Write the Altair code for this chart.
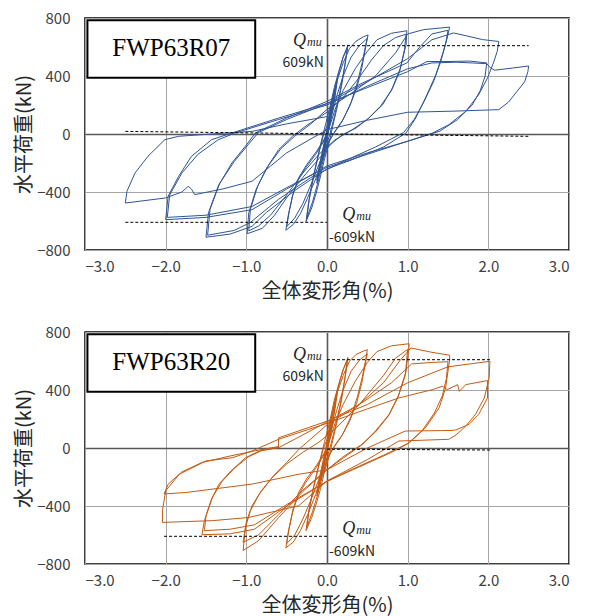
import altair as alt
import pandas as pd

X_TICKS = [-3, -2, -1, 0, 1, 2, 3]
Y_TICKS = [-800, -400, 0, 400, 800]
X_TITLE = "全体変形角(%)"
Y_TITLE = "水平荷重(kN)"

# ---------------- FWP63R07 (blue) hysteresis ----------------
r07_small = [(0, 0), (0.03, 110), (0.06, 200), (0.04, 110), (0.01, 10), (-0.03, -90), (-0.06, -180),
             (-0.04, -100), (-0.01, -10), (0.03, 100), (0.06, 190), (0.04, 100), (0.0, 0), (-0.03, -90),
             (-0.06, -170), (-0.03, -70), (0.0, 10), (0.04, 150), (0.08, 260), (0.125, 380), (0.1, 280),
             (0.06, 150), (0.02, 20), (-0.02, -80), (-0.06, -180), (-0.1, -270), (-0.125, -340),
             (-0.1, -250), (-0.06, -140), (-0.02, -20), (0.02, 90), (0.06, 200), (0.1, 300), (0.125, 360),
             (0.1, 260), (0.05, 110), (0.0, -20), (-0.05, -150), (-0.1, -260), (-0.125, -320),
             (-0.1, -230), (-0.05, -100), (0.0, 20)]
r07_025 = [(0.05, 170), (0.1, 310), (0.15, 430), (0.2, 530), (0.26, 615), (0.23, 500), (0.18, 330),
           (0.12, 170), (0.07, 50), (0.03, -50), (-0.03, -170), (-0.08, -290), (-0.13, -400),
           (-0.19, -510), (-0.26, -605), (-0.23, -480), (-0.18, -320), (-0.12, -170), (-0.07, -50),
           (-0.03, 40), (0.03, 170), (0.09, 320), (0.15, 440), (0.2, 530), (0.25, 590), (0.22, 470),
           (0.16, 290), (0.1, 140), (0.05, 30), (0.0, -70), (-0.06, -210), (-0.12, -350), (-0.18, -470),
           (-0.25, -580), (-0.22, -450), (-0.16, -280), (-0.1, -130), (-0.05, -20), (0.0, 60)]
r07_050 = [(0.05, 200), (0.12, 360), (0.2, 490), (0.28, 590), (0.36, 640), (0.45, 670), (0.51, 683),
           (0.48, 617), (0.44, 500), (0.38, 363), (0.3, 220), (0.2, 100), (0.1, 20), (0.03, -50),
           (-0.05, -170), (-0.14, -310), (-0.24, -440), (-0.33, -550), (-0.42, -625), (-0.51, -664),
           (-0.48, -560), (-0.43, -430), (-0.36, -320), (-0.26, -230), (-0.14, -140), (-0.05, -60),
           (0.0, 0), (0.05, 110), (0.12, 260), (0.2, 400), (0.3, 530), (0.4, 610), (0.5, 660),
           (0.47, 570), (0.43, 450), (0.37, 320), (0.28, 190), (0.18, 80), (0.08, 0), (0.0, -70),
           (-0.1, -210), (-0.2, -350), (-0.3, -480), (-0.4, -580), (-0.5, -640), (-0.47, -540),
           (-0.42, -410), (-0.35, -300), (-0.25, -210), (-0.13, -120), (-0.04, -40), (0.02, 30)]
r07_100 = [(0.1, 170), (0.2, 300), (0.35, 450), (0.5, 570), (0.62, 650), (0.8, 695), (0.99, 712),
           (0.98, 616), (0.91, 455), (0.81, 317), (0.69, 202), (0.52, 110), (0.36, 41), (0.19, -5),
           (0.05, -70), (-0.1, -170), (-0.3, -300), (-0.5, -440), (-0.65, -560), (-0.8, -650),
           (-0.99, -688), (-0.97, -545), (-0.88, -384), (-0.76, -246), (-0.6, -108), (-0.43, -16),
           (-0.25, 60), (0.0, 150), (0.2, 250), (0.4, 390), (0.55, 510), (0.7, 610), (0.85, 665),
           (0.98, 688), (0.96, 580), (0.9, 430), (0.8, 300), (0.66, 190), (0.5, 100), (0.3, 25),
           (0.1, -40), (-0.1, -140), (-0.3, -270), (-0.5, -420), (-0.7, -560), (-0.85, -635),
           (-0.97, -668), (-0.95, -520), (-0.86, -360), (-0.73, -220), (-0.57, -100), (-0.4, -15)]
r07_150 = [(-0.2, 70), (0.0, 170), (0.3, 280), (0.6, 400), (0.85, 560), (1.0, 690), (1.2, 720),
           (1.52, 737), (1.49, 662), (1.43, 547), (1.35, 409), (1.22, 248), (1.1, 110), (0.98, 7),
           (0.7, -90), (0.3, -180), (0.0, -240), (-0.4, -390), (-0.75, -540), (-0.93, -637),
           (-1.2, -690), (-1.5, -712), (-1.47, -545), (-1.35, -361), (-1.18, -200), (-0.98, -62),
           (-0.89, 7), (-0.5, 110), (0.0, 225), (0.44, 352), (0.99, 490), (1.15, 600), (1.3, 690),
           (1.5, 715), (1.47, 620), (1.41, 500), (1.32, 360), (1.2, 220), (1.08, 100), (0.95, 10),
           (0.6, -90), (0.2, -190), (-0.2, -300), (-0.6, -450), (-0.95, -610), (-1.15, -665),
           (-1.48, -698), (-1.45, -520), (-1.33, -340), (-1.15, -190), (-0.95, -55), (-0.85, 10)]
r07_200 = [(-0.5, 100), (0.0, 210), (0.5, 360), (1.0, 520), (1.3, 650), (1.57, 697), (1.93, 651),
           (2.13, 638), (2.11, 570), (2.07, 501), (1.99, 386), (1.88, 271), (1.72, 156), (1.51, 64),
           (1.31, 7), (1.0, -50), (0.5, -130), (0.0, -220), (-0.5, -380), (-0.93, -522), (-1.5, -575),
           (-2.0, -591), (-1.97, -430), (-1.84, -292), (-1.68, -154), (-1.43, -39), (-1.18, 7),
           (-0.6, 110), (0.0, 210), (0.5, 320), (1.0, 430), (1.24, 500), (1.5, 500), (1.77, 503),
           (1.98, 490), (1.96, 400), (1.9, 300), (1.8, 200), (1.62, 100), (1.4, 20), (1.0, -50),
           (0.5, -140), (0.0, -230), (-0.5, -370), (-0.93, -500), (-1.5, -560), (-1.98, -575),
           (-1.95, -420), (-1.8, -270), (-1.6, -140), (-1.35, -40), (-1.15, 5)]
r07_250 = [(-0.6, 100), (0.0, 200), (0.5, 330), (1.0, 450), (1.3, 490), (1.6, 495), (1.8, 490),
           (1.98, 485), (2.03, 455), (2.08, 440), (2.3, 455), (2.5, 469), (2.49, 430), (2.45, 360),
           (2.35, 290), (2.25, 220), (2.13, 168), (1.6, 158), (1.0, 150), (0.5, 95), (0.0, 30),
           (-0.5, -130), (-0.93, -326), (-1.3, -380), (-1.64, -418), (-1.68, -380), (-1.72, -361),
           (-1.8, -400), (-2.0, -441), (-2.5, -476), (-2.48, -395), (-2.38, -269), (-2.22, -154),
           (-2.01, -39), (-1.84, -16), (-1.72, -11), (-1.3, 5), (-0.93, 18), (-0.5, 70), (0.0, 120)]

# ---------------- FWP63R20 (orange) hysteresis ----------------
r20_small = [(0, 0), (0.03, 120), (0.06, 210), (0.04, 120), (0.01, 15), (-0.03, -90), (-0.06, -170),
             (-0.04, -95), (-0.01, -5), (0.03, 105), (0.06, 195), (0.04, 105), (0.0, 0), (-0.03, -85),
             (-0.06, -165), (-0.03, -65), (0.0, 15), (0.04, 160), (0.08, 270), (0.125, 390), (0.1, 290),
             (0.06, 150), (0.02, 25), (-0.02, -75), (-0.06, -170), (-0.1, -260), (-0.125, -330),
             (-0.1, -240), (-0.06, -130), (-0.02, -15), (0.02, 95), (0.06, 210), (0.1, 310),
             (0.125, 370), (0.1, 270), (0.05, 115), (0.0, -15), (-0.05, -140), (-0.1, -250),
             (-0.125, -310), (-0.1, -220), (-0.05, -95), (0.0, 25)]
r20_025 = [(0.05, 180), (0.1, 320), (0.15, 440), (0.2, 540), (0.26, 625), (0.23, 505), (0.18, 330),
           (0.12, 170), (0.07, 50), (0.03, -50), (-0.03, -160), (-0.08, -280), (-0.13, -380),
           (-0.19, -480), (-0.26, -570), (-0.23, -450), (-0.18, -300), (-0.12, -160), (-0.07, -45),
           (-0.03, 45), (0.03, 175), (0.09, 330), (0.15, 450), (0.2, 540), (0.25, 600), (0.22, 475),
           (0.16, 290), (0.1, 140), (0.05, 30), (0.0, -70), (-0.06, -200), (-0.12, -330),
           (-0.18, -440), (-0.25, -545), (-0.22, -420), (-0.16, -260), (-0.1, -120), (-0.05, -15),
           (0.0, 60)]
r20_050 = [(0.05, 200), (0.12, 370), (0.2, 500), (0.28, 600), (0.36, 645), (0.45, 668), (0.5, 678),
           (0.48, 610), (0.44, 495), (0.38, 360), (0.3, 220), (0.2, 100), (0.1, 20), (0.03, -50),
           (-0.05, -175), (-0.14, -320), (-0.24, -460), (-0.33, -570), (-0.42, -650), (-0.51, -689),
           (-0.48, -580), (-0.43, -450), (-0.36, -330), (-0.26, -235), (-0.14, -140), (-0.05, -60),
           (0.0, 0), (0.05, 110), (0.12, 260), (0.2, 400), (0.3, 530), (0.4, 605), (0.5, 650),
           (0.47, 565), (0.43, 445), (0.37, 315), (0.28, 185), (0.18, 80), (0.08, 0), (0.0, -70),
           (-0.1, -215), (-0.2, -360), (-0.3, -490), (-0.4, -600), (-0.5, -660), (-0.47, -555),
           (-0.42, -420), (-0.35, -305), (-0.25, -210), (-0.13, -120), (-0.04, -40), (0.02, 30)]
r20_100 = [(0.1, 170), (0.2, 300), (0.35, 460), (0.5, 590), (0.62, 665), (0.8, 705), (1.02, 719),
           (0.98, 529), (0.89, 368), (0.77, 231), (0.6, 117), (0.44, 25), (0.25, -50), (0.0, -150),
           (-0.3, -300), (-0.6, -480), (-0.85, -640), (-1.04, -707), (-1.01, -547), (-0.95, -433),
           (-0.84, -318), (-0.68, -204), (-0.5, -110), (-0.3, -30), (-0.1, 40), (0.1, 130),
           (0.4, 300), (0.7, 500), (0.85, 620), (1.0, 680), (0.97, 500), (0.88, 350), (0.76, 220),
           (0.6, 110), (0.42, 20), (0.2, -60), (0.0, -150), (-0.3, -290), (-0.6, -460),
           (-0.85, -600), (-1.04, -650), (-1.0, -510), (-0.93, -400), (-0.82, -300), (-0.66, -190),
           (-0.5, -100), (-0.35, -10)]
r20_150 = [(0.0, 160), (0.4, 300), (0.7, 450), (0.9, 600), (1.04, 690), (1.3, 660), (1.52, 640),
           (1.52, 609), (1.47, 414), (1.39, 277), (1.22, 139), (1.02, 36), (0.8, -30), (0.4, -130),
           (0.0, -230), (-0.5, -400), (-0.9, -560), (-1.2, -592), (-1.55, -598), (-1.52, -501),
           (-1.44, -364), (-1.34, -249), (-1.19, -158), (-1.01, -67), (-0.84, -21), (-0.6, 2),
           (-0.3, 90), (0.0, 180), (0.4, 300), (0.8, 450), (1.05, 580), (1.3, 590), (1.5, 595),
           (1.48, 480), (1.43, 360), (1.33, 240), (1.18, 120), (1.0, 30), (0.7, -50), (0.3, -150),
           (0.0, -230), (-0.5, -390), (-0.9, -530), (-1.2, -560), (-1.52, -570), (-1.5, -470),
           (-1.42, -340), (-1.3, -230), (-1.15, -140), (-0.97, -60), (-0.8, -15), (-0.6, 5)]
r20_200 = [(-0.6, 70), (0.0, 185), (0.5, 300), (1.0, 450), (1.5, 560), (2.02, 598), (2.01, 483),
           (1.95, 345), (1.84, 231), (1.72, 151), (1.6, 90), (1.51, 60), (0.89, 48), (0.5, -80),
           (0.0, -227), (-0.35, -398), (-0.97, -479), (-1.42, -501), (-2.04, -513), (-2.04, -433),
           (-2.0, -295), (-1.83, -181), (-1.5, -89), (-1.17, -67), (-0.93, -21), (-0.6, 60),
           (0.0, 170), (0.5, 270), (0.89, 345), (1.31, 403), (1.43, 426), (1.49, 403), (1.62, 437),
           (1.64, 391), (1.72, 437), (1.99, 465), (1.99, 345), (1.88, 231), (1.76, 163),
           (1.6, 125), (1.55, 121), (0.97, 117), (0.5, 0), (0.0, -150), (-0.35, -181),
           (-0.93, -249), (-1.75, -307), (-2.02, -317), (-1.97, -250), (-1.8, -165), (-1.55, -100),
           (-1.2, -55), (-0.9, -20), (-0.6, 10)]

# ---------------- reference lines, labels, annotations ----------------
r07_dashed_x = [0.0, -2.5, -2.5]
r07_dashed_x2 = [2.5, 0.0, 2.5]
r07_dashed_y = [609, -609, 18]
r07_dashed_y2 = [609, -609, -16]
r20_dashed_x = [0.0, -2.02, 0.0]
r20_dashed_x2 = [2.02, 0.0, 2.02]
r20_dashed_y = [609, -609, -8]
r20_dashed_y2 = [609, -609, -14]

box_x = [-2.97]
box_x2 = [-0.89]
box_y = [785]
box_y2 = [388]
box_text_pos = [(-1.93, 590)]

q_pos = [(-0.26, 607), (0.19, -595)]       # "Q" of Q_mu (upper/lower)
qn_pos = [(-0.04, 462), (0.025, -745)]     # "609kN" / "-609kN"
qn_text = ["609kN", "-609kN"]


def path_df(stages):
    pts = [p for s in stages for p in s]
    return pd.DataFrame({"x": [p[0] for p in pts], "y": [p[1] for p in pts],
                         "i": list(range(len(pts)))})


def xenc(field="x"):
    return alt.X(f"{field}:Q", scale=alt.Scale(domain=[-3, 3], nice=False, zero=False),
                 axis=alt.Axis(values=X_TICKS, format=".1f", title=X_TITLE))


def yenc(field="y"):
    return alt.Y(f"{field}:Q", scale=alt.Scale(domain=[-800, 800], nice=False),
                 axis=alt.Axis(values=Y_TICKS, title=Y_TITLE))


def panel(stages, color, label, dx, dx2, dy, dy2):
    line = alt.Chart(path_df(stages)).mark_line(color=color, strokeWidth=1, clip=True).encode(
        x=xenc(), y=yenc(), order="i:Q")
    dashed = alt.Chart(pd.DataFrame({"x": dx, "x2": dx2, "y": dy, "y2": dy2})).mark_rule(
        color="black", strokeWidth=1, strokeDash=[3, 2]).encode(
        x=xenc(), x2="x2:Q", y=yenc(), y2="y2:Q")
    box = alt.Chart(pd.DataFrame({"x": box_x, "x2": box_x2, "y": box_y, "y2": box_y2})).mark_rect(
        fill="white", stroke="black", strokeWidth=2).encode(x=xenc(), x2="x2:Q", y=yenc(), y2="y2:Q")
    boxtext = alt.Chart(pd.DataFrame({"x": [box_text_pos[0][0]], "y": [box_text_pos[0][1]],
                                      "t": [label]})).mark_text(
        font="Liberation Serif", fontSize=25, color="black", baseline="middle", align="center").encode(
        x=xenc(), y=yenc(), text="t:N")
    qdf = pd.DataFrame({"x": [p[0] for p in q_pos], "y": [p[1] for p in q_pos]})
    q_up = alt.Chart(qdf.iloc[[0]]).mark_text(
        font="Liberation Serif", fontStyle="italic", fontSize=18, color="#262626",
        align="right", baseline="alphabetic").encode(x=xenc(), y=yenc(), text=alt.value("Q"))
    mu_up = alt.Chart(qdf.iloc[[0]]).mark_text(
        font="Liberation Serif", fontStyle="italic", fontSize=12, color="#262626",
        align="left", baseline="alphabetic", dx=1).encode(x=xenc(), y=yenc(), text=alt.value("mu"))
    q_lo = alt.Chart(qdf.iloc[[1]]).mark_text(
        font="Liberation Serif", fontStyle="italic", fontSize=18, color="#262626",
        align="left", baseline="alphabetic").encode(x=xenc(), y=yenc(), text=alt.value("Q"))
    mu_lo = alt.Chart(qdf.iloc[[1]]).mark_text(
        font="Liberation Serif", fontStyle="italic", fontSize=12, color="#262626",
        align="left", baseline="alphabetic", dx=14).encode(x=xenc(), y=yenc(), text=alt.value("mu"))
    ndf = pd.DataFrame({"x": [p[0] for p in qn_pos], "y": [p[1] for p in qn_pos], "t": qn_text})
    n_up = alt.Chart(ndf.iloc[[0]]).mark_text(
        font="Noto Sans CJK JP", fontSize=14, color="#262626", align="right",
        baseline="alphabetic").encode(x=xenc(), y=yenc(), text="t:N")
    n_lo = alt.Chart(ndf.iloc[[1]]).mark_text(
        font="Noto Sans CJK JP", fontSize=14, color="#262626", align="left",
        baseline="alphabetic").encode(x=xenc(), y=yenc(), text="t:N")
    return alt.layer(line, dashed, box, boxtext, q_up, mu_up, q_lo, mu_lo, n_up, n_lo).properties(
        width=484, height=232)


top = panel([r07_small, r07_025, r07_050, r07_100, r07_150, r07_200, r07_250], "#2F5597",
            "FWP63R07", r07_dashed_x, r07_dashed_x2, r07_dashed_y, r07_dashed_y2)
bottom = panel([r20_small, r20_025, r20_050, r20_100, r20_150, r20_200], "#C55A11",
               "FWP63R20", r20_dashed_x, r20_dashed_x2, r20_dashed_y, r20_dashed_y2)

grid_color = {"condition": {"test": "datum.value === 0", "value": "#595959"}, "value": "#a6a6a6"}
grid_width = {"condition": {"test": "datum.value === 0", "value": 1.6}, "value": 1}

chart = alt.vconcat(top, bottom, spacing=22).properties(
    padding={"left": 5, "top": 2, "right": 0, "bottom": 0}
).configure_view(stroke="black", strokeWidth=1.5).configure_axis(
    domain=False, ticks=False, gridColor=grid_color, gridWidth=grid_width,
    labelFont="Noto Sans CJK JP", labelFontSize=15, labelColor="#404040",
    titleFont="Noto Sans CJK JP", titleFontSize=20, titleFontWeight="normal", titleColor="#262626"
).configure_axisX(labelPadding=9, titlePadding=7).configure_axisY(labelPadding=15, titlePadding=2)

chart.save("out.html", embed_options={"renderer": "svg", "actions": False})
